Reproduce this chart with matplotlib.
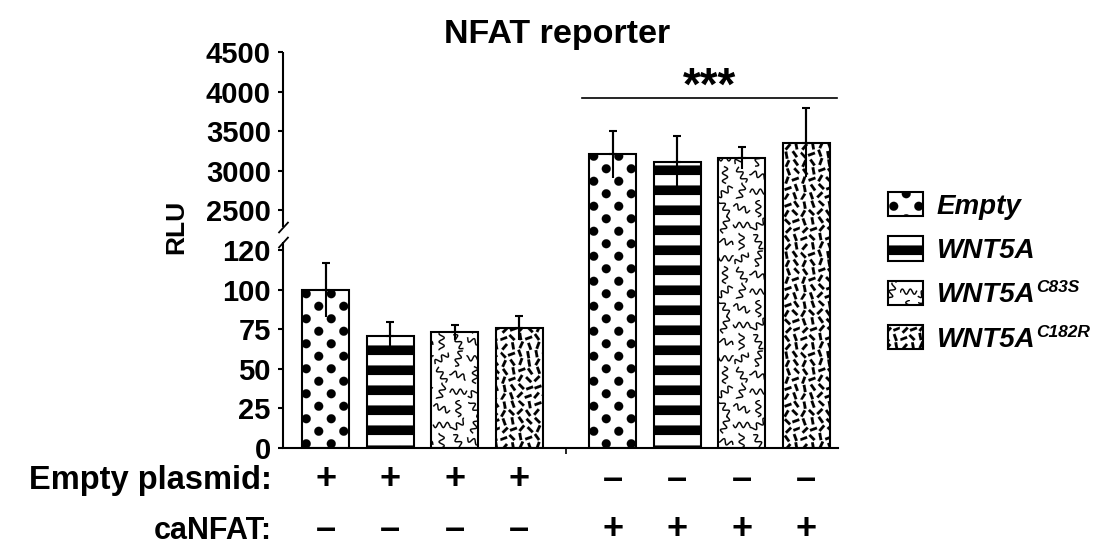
import warnings
import numpy as np
import matplotlib
matplotlib.use('Agg')
import matplotlib.pyplot as plt
import matplotlib.hatch as mhatch
import matplotlib.transforms as mtransforms
from matplotlib.path import Path
from matplotlib.patches import Patch

warnings.filterwarnings('ignore', message='hatch must consist')

# ---- data ----
construct_names = ['Empty', 'WNT5A', 'WNT5A', 'WNT5A']
construct_sups = ['', '', 'C83S', 'C182R']
rlu_no_canfat = [100, 71, 73, 76]
err_no_canfat = [17, 8.5, 4.5, 7.5]
rlu_canfat = [3210, 3115, 3160, 3355]
err_canfat = [295, 325, 135, 435]
empty_plasmid = ['+', '+', '+', '+', '\u2013', '\u2013', '\u2013', '\u2013']
canfat = ['\u2013', '\u2013', '\u2013', '\u2013', '+', '+', '+', '+']
sig_level = 3920
lower_ticks = [0, 25, 50, 75, 100, 125]
lower_labels = ['0', '25', '50', '75', '100', '120']
upper_ticks = [2500, 3000, 3500, 4000, 4500]

plt.rcParams['font.family'] = ['Liberation Sans', 'DejaVu Sans']
plt.rcParams['font.weight'] = 'bold'
plt.rcParams['hatch.linewidth'] = 0.1


# ---- custom fill textures (drawn in a 1x1 hatch tile) ----
def ribbon(pts, hw):
    d = np.gradient(pts, axis=0)
    n = np.stack([-d[:, 1], d[:, 0]], axis=1)
    n /= np.linalg.norm(n, axis=1)[:, None]
    return np.vstack([pts + n * hw, (pts - n * hw)[::-1]])


def circle(cx, cy, r, n=20):
    t = np.linspace(0, 2 * np.pi, n, endpoint=False)
    return np.stack([cx + r * np.cos(t), cy + r * np.sin(t)], axis=1)


class Texture(mhatch.HatchPatternBase):
    key = '?'

    def __init__(self, hatch, density):
        self.polys = self.shapes() if self.key in hatch else []
        self.num_vertices = sum(len(p) + 1 for p in self.polys)

    def set_vertices_and_codes(self, vertices, codes):
        i = 0
        for p in self.polys:
            n = len(p)
            vertices[i:i + n] = p
            vertices[i + n] = p[0]
            codes[i] = Path.MOVETO
            codes[i + 1:i + n] = Path.LINETO
            codes[i + n] = Path.CLOSEPOLY
            i += n + 1


class Dots(Texture):
    key = 'q'

    def shapes(self):
        out = []
        for r in range(8):
            for c in range(4):
                cx = 0.0625 + 0.25 * c + (0.125 if r % 2 else 0)
                out.append(circle(cx, 0.0625 + 0.125 * r, 0.045))
        return out


class Stripes(Texture):
    key = 'z'

    def shapes(self):
        out = []
        for k in range(5):
            y0 = 0.05 + 0.2 * k
            out.append(np.array([[0, y0], [1, y0], [1, y0 + 0.095], [0, y0 + 0.095]]))
        return out


class Waves(Texture):
    key = 'w'

    def shapes(self):
        out = []
        t = np.linspace(-0.085, 0.085, 50)
        n = 6
        for i in range(n):
            for j in range(n):
                cx, cy = (i + 0.5) / n, (j + 0.5) / n
                ph = ((i * 2 + j) % 3) * 1.7
                w = 0.026 * np.sin(2 * np.pi * t / 0.08 + ph)
                a = np.radians([0, 90, 35, 120, 70, 160][(i * 2 + j * 5) % 6])
                px = t * np.cos(a) - w * np.sin(a)
                py = t * np.sin(a) + w * np.cos(a)
                pts = np.stack([cx + px, cy + py], axis=1)
                pts = np.clip(pts, 0.004, 0.996)
                out.append(ribbon(pts, 0.0065))
        return out


class Dashes(Texture):
    key = 'k'

    def shapes(self):
        out = []
        angles = [60, 125, 50, 110, 70, 135, 45, 100, 65, 20]
        n = 12
        for i in range(n):
            for j in range(n):
                a = np.radians(angles[(i * 3 + j * 7 + (i * j) % 4) % 10])
                cx = (i + 0.5) / n + (((i * 5 + j * 3) % 5) - 2) * 0.005
                cy = (j + 0.5) / n + (((i * 2 + j * 5) % 5) - 2) * 0.005
                u = np.array([np.cos(a), np.sin(a)]) * 0.036
                v = np.array([-np.sin(a), np.cos(a)]) * 0.0135
                c = np.array([cx, cy])
                out.append(np.clip(np.array([c - u - v, c + u - v, c + u + v, c - u + v]),
                                   0.002, 0.998))
        return out


mhatch._hatch_types.extend([Dots, Stripes, Waves, Dashes])
hatches = ['q', 'z', 'w', 'k']

# ---- broken y scale: lower segment 0-130, upper segment 2290-4500 ----
KY = [0, 130, 2290, 4500]
KS = [0, 205.9, 221.0, 396.0]
S_LO = KS[1] / KY[1]
S_HI = (KS[3] - KS[2]) / (KY[3] - KY[2])


def fwd(v):
    v = np.asarray(v, dtype=float)
    s = np.interp(v, KY, KS)
    s = np.where(v < KY[0], v * S_LO, s)
    return np.where(v > KY[-1], KS[-1] + (v - KY[-1]) * S_HI, s)


def inv(s):
    s = np.asarray(s, dtype=float)
    v = np.interp(s, KS, KY)
    v = np.where(s < KS[0], s / S_LO, v)
    return np.where(s > KS[-1], KY[-1] + (s - KS[-1]) / S_HI, v)


fig = plt.figure(figsize=(10.97, 5.48), dpi=100)
ax = fig.add_axes([0.258, 0.1825, 0.506, 0.7226])
ax.set_yscale('function', functions=(fwd, inv))

gap = 0.45
x = np.concatenate([np.arange(4), np.arange(4) + 4 + gap])
vals = np.array(rlu_no_canfat + rlu_canfat, dtype=float)
errs = np.array(err_no_canfat + err_canfat, dtype=float)

bars = ax.bar(x, vals, width=0.73, color='white', edgecolor='black',
              linewidth=1.5, zorder=2)
for b, h in zip(bars, hatches * 2):
    b.set_hatch(h)

ax.errorbar(x, vals, yerr=errs, fmt='none', ecolor='black', elinewidth=1.5,
            capsize=0, zorder=3)
ax.errorbar(x, vals, yerr=[np.zeros_like(errs), errs], fmt='none',
            ecolor='black', elinewidth=1.5, capsize=2.9, capthick=1.5, zorder=3)

ax.set_xlim(-0.66, 7.945)
ax.set_ylim(0, 4500)

# axes lines
for s in ['top', 'right', 'left']:
    ax.spines[s].set_visible(False)
ax.spines['bottom'].set_linewidth(1.5)
yblend = mtransforms.blended_transform_factory(ax.transAxes, ax.transData)
ax.plot([0, 0], [0, KY[1]], color='black', lw=1.5, transform=yblend,
        clip_on=False, solid_capstyle='butt')
ax.plot([0, 0], [KY[2], KY[3]], color='black', lw=1.5, transform=yblend,
        clip_on=False, solid_capstyle='butt')
for yb in [KY[1], KY[2]]:
    ax.plot([0], [yb], marker=[(-1, -1.1), (1, 1.1)], ms=8, mew=1.3,
            color='black', transform=yblend, clip_on=False)

ax.set_yticks(lower_ticks + upper_ticks,
              labels=lower_labels + [str(t) for t in upper_ticks])
ax.tick_params(axis='y', direction='out', length=3.8, width=1.5, pad=5,
               labelsize=21)
ax.set_xticks([(3 + 4 + gap) / 2], labels=[''])
ax.tick_params(axis='x', direction='out', length=4.3, width=1.2)
ax.minorticks_off()

# significance bar
ax.plot([x[4] - 0.47, x[7] + 0.48], [sig_level, sig_level], color='black',
        lw=1.2, zorder=3)
ax.annotate('***', xy=((x[4] + x[7]) / 2, sig_level), xytext=(0, -1),
            textcoords='offset points', ha='center', va='baseline',
            fontsize=33)

# condition rows under the axis
xblend = mtransforms.blended_transform_factory(ax.transData, fig.transFigure)
row_y = [1 - 489 / 548, 1 - 539 / 548]
fig.text(272 / 1097, row_y[0], 'Empty plasmid:', ha='right', va='baseline',
         fontsize=23.5)
fig.text(272 / 1097, row_y[1], 'caNFAT:', ha='right', va='baseline',
         fontsize=22)
for xi, s1, s2 in zip(x, empty_plasmid, canfat):
    ax.text(xi, row_y[0], s1, transform=xblend, ha='center', va='baseline',
            fontsize=26)
    ax.text(xi, row_y[1], s2, transform=xblend, ha='center', va='baseline',
            fontsize=26)

fig.text(176 / 1097, 1 - 227 / 548, 'RLU', rotation=90, ha='center',
         va='center', fontsize=19)
fig.text(0.5082, 1 - 43 / 548, 'NFAT reporter', ha='center', va='baseline',
         fontsize=24.5)

handles = [Patch(facecolor='white', edgecolor='black', linewidth=1.5, hatch=h)
           for h in hatches]
leg = fig.legend(handles, construct_names, loc='upper left',
                 bbox_to_anchor=(888 / 1097, 1 - 192 / 548), frameon=False,
                 borderpad=0, borderaxespad=0, handlelength=1.26,
                 handleheight=0.97, handletextpad=0.5, labelspacing=0.6,
                 prop={'size': 20, 'weight': 'bold', 'style': 'italic'})

# superscript mutation names after the legend labels
fig.canvas.draw()
renderer = fig.canvas.get_renderer()
W, H = fig.bbox.width, fig.bbox.height
for txt, sup in zip(leg.get_texts(), construct_sups):
    if not sup:
        continue
    bb = txt.get_window_extent(renderer)
    fig.text((bb.x1 + 1) / W, (bb.y1 + 2) / H, sup, ha='left', va='top',
             fontsize=12.5, fontweight='bold', fontstyle='italic')

fig.savefig('out.png', dpi=100)
